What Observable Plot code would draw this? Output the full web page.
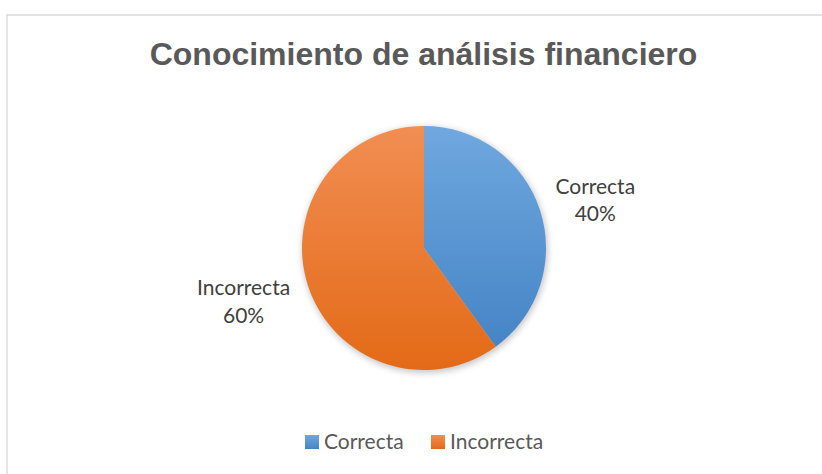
<!DOCTYPE html>
<html><head><meta charset="utf-8">
<script src="https://cdn.jsdelivr.net/npm/d3@7"></script>
<script src="https://cdn.jsdelivr.net/npm/@observablehq/plot@0.6"></script>
<style>body{margin:0;background:#fff} svg{display:block}</style>
</head><body><div id="chart"></div>
<script>
const title = "Conocimiento de análisis financiero";
const categories = ["Correcta", "Incorrecta"];
const values = [40, 60];
const percentLabels = ["40%", "60%"];
const colorsTop = ["#70a8df", "#f28e53"];
const colorsBottom = ["#4584c6", "#e36a17"];

const W = 822, H = 474;
const pie = {cx: 424, cy: 248, r: 122};
const data = categories.map((c, i) => ({category: c, value: values[i], label: percentLabels[i], i}));
const arcs = d3.pie().sort(null).value(d => d.value)(data);
const labelFont = "Lato, 'Open Sans', sans-serif";

function gradients(svg) {
  const defs = svg.append("defs");
  categories.forEach((c, i) => {
    const g = defs.append("linearGradient").attr("id", "grad" + i)
      .attr("x1", 0).attr("y1", 0).attr("x2", 0).attr("y2", 1);
    g.append("stop").attr("offset", "0%").attr("stop-color", colorsTop[i]);
    g.append("stop").attr("offset", "100%").attr("stop-color", colorsBottom[i]);
  });
  const f = defs.append("filter").attr("id", "shadow").attr("x", "-20%").attr("y", "-20%").attr("width", "140%").attr("height", "140%");
  f.append("feGaussianBlur").attr("stdDeviation", 3);
}

function pieMark(index, scales, vals, dims) {
  const g = d3.create("svg:g");
  gradients(g);
  const cx = scales.x(pie.cx), cy = scales.y(pie.cy);
  const r = scales.x(pie.cx + pie.r) - cx;
  g.append("circle").attr("cx", cx + 1).attr("cy", cy + 2).attr("r", r + 1)
    .attr("fill", "#000").attr("fill-opacity", 0.22).attr("filter", "url(#shadow)");
  const arc = d3.arc().innerRadius(0).outerRadius(r);
  g.selectAll("path.slice").data(arcs).join("path")
    .attr("class", "slice")
    .attr("transform", `translate(${cx},${cy})`)
    .attr("d", arc)
    .attr("fill", d => `url(#grad${d.data.i})`);
  return g.node();
}

function legendMark(index, scales) {
  const g = d3.create("svg:g");
  const y = scales.y(442);
  let x = scales.x(305);
  categories.forEach((c, i) => {
    g.append("rect").attr("x", x).attr("y", y - 7).attr("width", 14).attr("height", 14)
      .attr("fill", `url(#grad${i})`);
    g.append("text").attr("x", x + 19).attr("y", y).attr("dy", "0.35em")
      .attr("text-anchor", "start")
      .attr("fill", "#595959").attr("font-family", labelFont).attr("font-size", 21).text(c);
    x += 126;
  });
  return g.node();
}

const mid = d => (d.startAngle + d.endAngle) / 2;
const side = d => Math.sin(mid(d)) >= 0 ? 1 : -1;

const chart = Plot.plot({
  width: W, height: H, margin: 0,
  x: {domain: [0, W], range: [0, W], axis: null},
  y: {domain: [0, H], range: [0, H], axis: null},
  style: {background: "#fff", overflow: "hidden"},
  marks: [
    Plot.ruleY([14.5], {x1: 6.5, x2: W, stroke: "#d9d9d9", strokeWidth: 1.3}),
    Plot.ruleX([6.5], {y1: 14.5, y2: H, stroke: "#d9d9d9", strokeWidth: 1.3}),
    Plot.text([title], {x: 423, y: 54, text: d => d, fontSize: 32, fontWeight: "bold",
      fill: "#595959", fontFamily: "'Liberation Sans', Arial, sans-serif"}),
    pieMark,
    Plot.text(arcs, {
      x: d => pie.cx + 1.12 * pie.r * Math.sin(mid(d)) + side(d) * d.data.category.length * 5.1,
      y: d => pie.cy - 1.35 * pie.r * Math.cos(mid(d)) + 1,
      text: d => d.data.category + "\n" + d.data.label,
      lineHeight: 1.33, fontSize: 21, fill: "#404040", fontFamily: labelFont, textAnchor: "middle"
    }),
    legendMark
  ]
});
document.getElementById("chart").append(chart);
</script>
</body></html>
